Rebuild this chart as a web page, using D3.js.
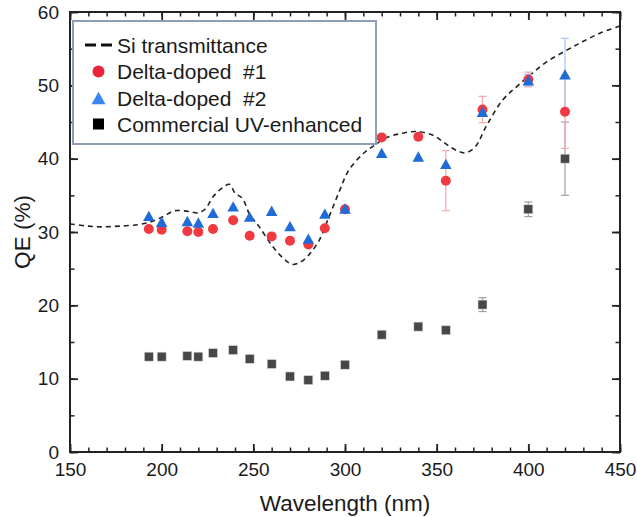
<!DOCTYPE html>
<html>
<head>
<meta charset="utf-8">
<script src="https://cdn.jsdelivr.net/npm/d3@7"></script>
<style>
  body { margin: 0; background: #fff; }
  svg text { font-family: "Liberation Sans", Arial, sans-serif; fill: #1a1a1a; white-space: pre; }
</style>
</head>
<body>
<svg id="chart" width="637" height="517"></svg>
<script>
// wavelengths of the measured points (nm)
var wavelength = [193, 200, 214, 220, 228, 239, 248, 260, 270, 280, 289, 300, 320, 340, 355, 375, 400, 420];
var deltaDoped1 = [30.4, 30.3, 30.1, 30.0, 30.4, 31.6, 29.5, 29.4, 28.8, 28.3, 30.5, 33.1, 42.9, 43.0, 37.0, 46.7, 50.8, 46.4];
var deltaDoped1Err = [0, 0, 0, 0, 0, 0, 0, 0, 0, 0, 0, 0, 0, 0, 4.1, 1.8, 1.0, 5.0];
var deltaDoped2 = [32.2, 31.4, 31.5, 31.3, 32.6, 33.5, 32.1, 32.9, 30.8, 29.1, 32.5, 33.2, 40.8, 40.3, 39.3, 46.4, 50.7, 51.5];
var deltaDoped2Err = [0, 0, 0, 0, 0, 0, 0, 0, 0, 0, 0, 0, 0, 0, 0, 0, 0.8, 4.9];
var commercial = [13.0, 13.0, 13.1, 13.0, 13.5, 13.9, 12.7, 12.0, 10.3, 9.8, 10.4, 11.9, 16.0, 17.1, 16.6, 20.1, 33.1, 40.0];
var commercialErr = [0, 0, 0, 0, 0, 0, 0, 0, 0, 0, 0, 0, 0, 0, 0, 0.95, 1.0, 5.0];

// Si transmittance curve (dashed)
var siWavelength = [150, 160, 167, 177, 187, 193, 200, 207, 211, 215, 220, 224, 228, 233, 237, 240, 244, 248, 253, 260, 266, 271, 275, 280, 286, 291, 297, 302, 310, 316, 322, 330, 339, 348, 353, 358, 363, 366, 371, 377, 386, 394, 401, 410, 421, 430, 439, 450];
var siTransmittance = [31.1, 30.8, 30.7, 30.8, 31.0, 31.3, 32.0, 32.9, 32.9, 32.8, 32.6, 33.2, 34.8, 36.0, 36.5, 35.3, 34.6, 32.4, 30.8, 28.2, 26.5, 25.6, 25.8, 26.8, 28.9, 31.9, 35.6, 38.4, 40.7, 41.8, 42.8, 43.4, 43.7, 43.2, 42.4, 41.5, 40.9, 40.8, 41.6, 44.4, 48.0, 49.9, 51.4, 53.2, 54.8, 56.0, 57.1, 58.1];

var xTicks = [150, 200, 250, 300, 350, 400, 450];
var yTicks = [0, 10, 20, 30, 40, 50, 60];
var legendLabels = ["Si transmittance", "Delta-doped  #1", "Delta-doped  #2", "Commercial UV-enhanced"];

var plotLeft = 70, plotRight = 620, plotTop = 12, plotBottom = 452;
var red = "#ee3a40", blue = "#1f6bd8", gray = "#474747";

var svg = d3.select("#chart");
var x = d3.scaleLinear().domain([150, 450]).range([plotLeft, plotRight]);
var y = d3.scaleLinear().domain([0, 60]).range([plotBottom, plotTop]);

// Si transmittance dashed curve
var line = d3.line()
    .x(function (d) { return x(d[0]); })
    .y(function (d) { return y(d[1]); })
    .curve(d3.curveCatmullRom.alpha(0.5));
svg.append("path")
    .datum(d3.zip(siWavelength, siTransmittance))
    .attr("d", line)
    .attr("fill", "none")
    .attr("stroke", "#222")
    .attr("stroke-width", 1.6)
    .attr("stroke-dasharray", "5,4");

// error bars
function errorBars(vals, errs, color) {
    var g = svg.append("g").attr("stroke", color).attr("stroke-width", 1.2);
    wavelength.forEach(function (w, i) {
        if (!errs[i]) return;
        var cx = x(w), y1 = y(vals[i] + errs[i]), y2 = y(vals[i] - errs[i]);
        g.append("line").attr("x1", cx).attr("x2", cx).attr("y1", y1).attr("y2", y2);
        g.append("line").attr("x1", cx - 4).attr("x2", cx + 4).attr("y1", y1).attr("y2", y1);
        g.append("line").attr("x1", cx - 4).attr("x2", cx + 4).attr("y1", y2).attr("y2", y2);
    });
}
errorBars(commercial, commercialErr, "#a0a0a0");
errorBars(deltaDoped1, deltaDoped1Err, "#f6a8aa");
errorBars(deltaDoped2, deltaDoped2Err, "#a9c5f2");

// squares
svg.append("g").selectAll("rect")
    .data(d3.zip(wavelength, commercial))
    .join("rect")
    .attr("x", function (d) { return x(d[0]) - 4.5; })
    .attr("y", function (d) { return y(d[1]) - 4.5; })
    .attr("width", 9).attr("height", 9)
    .attr("fill", gray)
    .attr("stroke", "#ddd").attr("stroke-width", 0.6);

// circles
svg.append("g").selectAll("circle")
    .data(d3.zip(wavelength, deltaDoped1))
    .join("circle")
    .attr("cx", function (d) { return x(d[0]); })
    .attr("cy", function (d) { return y(d[1]); })
    .attr("r", 5)
    .attr("fill", red);

// triangles
function tri(cx, cy, s) {
    var h = s * 0.9;
    return "M" + cx + "," + (cy - h / 2) + "L" + (cx + s / 2) + "," + (cy + h / 2) + "L" + (cx - s / 2) + "," + (cy + h / 2) + "Z";
}
svg.append("g").selectAll("path")
    .data(d3.zip(wavelength, deltaDoped2))
    .join("path")
    .attr("d", function (d) { return tri(x(d[0]), y(d[1]), 11.5); })
    .attr("fill", blue);

// axes, ticks pointing inward on all four sides
function minorVals(scale, step) {
    var d = scale.domain(), out = [];
    for (var v = d[0]; v <= d[1] + 1e-9; v += step) out.push(v);
    return out;
}
var axisColor = "#222";
function drawAxis(axisFn, scale, major, minor, transform, showLabels) {
    svg.append("g").attr("transform", transform)
        .call(axisFn(scale).tickValues(minor).tickSize(-4.5).tickFormat(""))
        .call(function (g) { g.select(".domain").remove(); g.selectAll("line").attr("stroke", axisColor).attr("stroke-width", 1.5); });
    var g = svg.append("g").attr("transform", transform)
        .call(axisFn(scale).tickValues(major).tickSize(-8).tickPadding(11).tickFormat(showLabels ? d3.format("d") : ""));
    g.select(".domain").remove();
    g.selectAll("line").attr("stroke", axisColor).attr("stroke-width", 1.8);
    g.selectAll("text").attr("font-size", 19).attr("font-family", "Liberation Sans, Arial, sans-serif").attr("fill", "#1a1a1a");
    return g;
}
var xMinor = minorVals(x, 10), yMinor = minorVals(y, 5);
drawAxis(d3.axisBottom, x, xTicks, xMinor, "translate(0," + plotBottom + ")", true);
drawAxis(d3.axisTop, x, xTicks, xMinor, "translate(0," + plotTop + ")", false);
drawAxis(d3.axisLeft, y, yTicks, yMinor, "translate(" + plotLeft + ",0)", true);
drawAxis(d3.axisRight, y, yTicks, yMinor, "translate(" + plotRight + ",0)", false);

svg.append("rect")
    .attr("x", plotLeft).attr("y", plotTop)
    .attr("width", plotRight - plotLeft).attr("height", plotBottom - plotTop)
    .attr("fill", "none").attr("stroke", axisColor).attr("stroke-width", 2);

// axis titles
svg.append("text")
    .attr("x", (plotLeft + plotRight) / 2).attr("y", 511)
    .attr("text-anchor", "middle").attr("font-size", 22.5)
    .text("Wavelength (nm)");
svg.append("text")
    .attr("transform", "translate(30," + ((plotTop + plotBottom) / 2) + ") rotate(-90)")
    .attr("text-anchor", "middle").attr("font-size", 22.5)
    .text("QE (%)");

// legend
var lg = svg.append("g").attr("transform", "translate(73,21)");
lg.append("rect").attr("width", 303).attr("height", 123)
    .attr("fill", "#fff").attr("stroke", "#8d9db8").attr("stroke-width", 2);
var rowY = [24, 50.5, 77, 103];
lg.append("line").attr("x1", 12).attr("x2", 39).attr("y1", rowY[0]).attr("y2", rowY[0])
    .attr("stroke", "#111").attr("stroke-width", 3).attr("stroke-dasharray", "11,5");
lg.append("circle").attr("cx", 25.5).attr("cy", rowY[1]).attr("r", 6).attr("fill", "#e8243a");
lg.append("path").attr("d", tri(25.5, rowY[2], 14)).attr("fill", "#3a86f0");
lg.append("rect").attr("x", 20).attr("y", rowY[3] - 5.5).attr("width", 11).attr("height", 11).attr("fill", "#000");
lg.selectAll("text.lab")
    .data(legendLabels)
    .join("text")
    .attr("class", "lab")
    .attr("x", 44)
    .attr("y", function (d, i) { return rowY[i] + 7.5; })
    .attr("font-size", 21)
    .text(function (d) { return d; });
</script>
</body>
</html>
